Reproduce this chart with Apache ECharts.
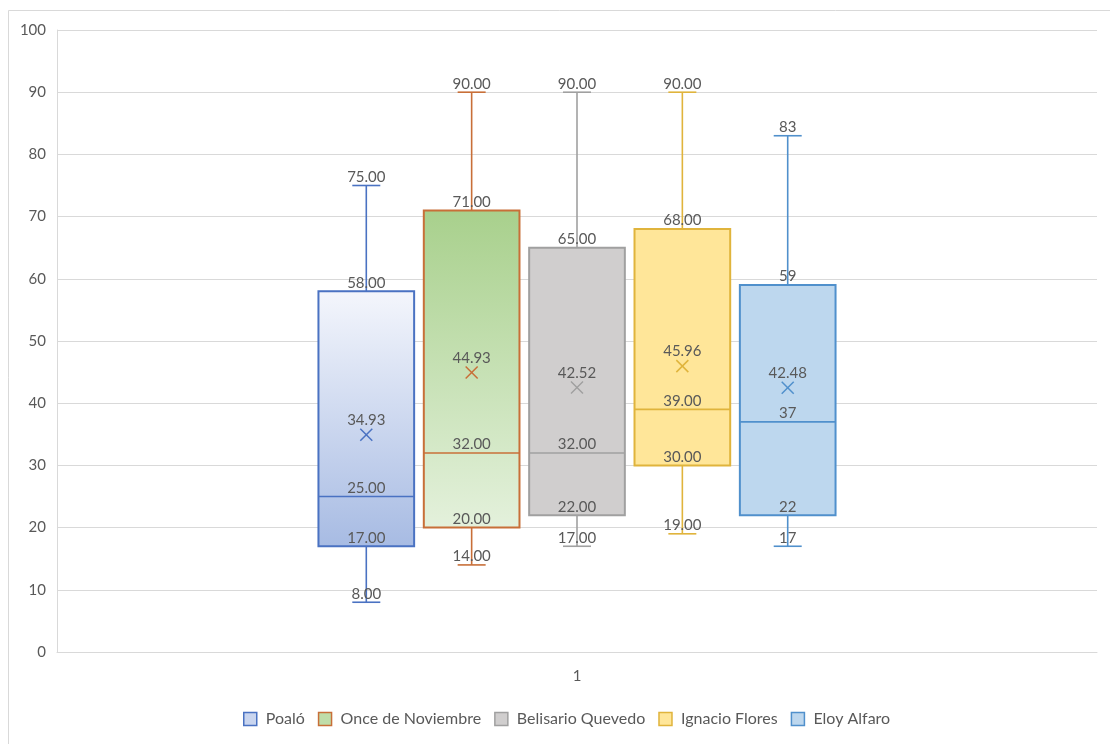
<!DOCTYPE html>
<html>
<head>
<meta charset="utf-8">
<script src="https://cdn.jsdelivr.net/npm/echarts@6/dist/echarts.min.js"></script>
<style>
html,body{margin:0;padding:0;background:#fff;}
#chart{width:1110px;height:744px;}
</style>
</head>
<body>
<div id="chart"></div>
<script>
// ---- data ----
const categories = ['1'];
const seriesNames = ['Poaló', 'Once de Noviembre', 'Belisario Quevedo', 'Ignacio Flores', 'Eloy Alfaro'];
const mins    = [8, 14, 17, 19, 17];
const q1s     = [17, 20, 22, 30, 22];
const medians = [25, 32, 32, 39, 37];
const q3s     = [58, 71, 65, 68, 59];
const maxs    = [75, 90, 90, 90, 83];
const means   = [34.93, 44.93, 42.52, 45.96, 42.48];
const labelDecimals = [2, 2, 2, 2, 0];
const yTicks = [0, 10, 20, 30, 40, 50, 60, 70, 80, 90, 100];

// ---- styles ----
const borderColors = ['#4A72C2', '#C86F38', '#A0A0A0', '#E0B43C', '#5090CC'];
const fills = [
  {type:'linear', x:0, y:0, x2:0, y2:1, colorStops:[{offset:0, color:'#F4F6FC'}, {offset:1, color:'#A7BBE3'}]},
  {type:'linear', x:0, y:0, x2:0, y2:1, colorStops:[{offset:0, color:'#A8D08C'}, {offset:1, color:'#E4F1DC'}]},
  '#D0CECE',
  '#FFE699',
  '#BDD7EE'
];
const legendFills = ['#C9D5EF', '#BFDDA9', '#D0CECE', '#FFE699', '#BDD7EE'];
const labelColor = '#595959';
const fontFamily = 'Lato, "Liberation Sans", sans-serif';

function makeSeries(i) {
  return {
    name: seriesNames[i],
    type: 'custom',
    itemStyle: {color: legendFills[i], borderColor: borderColors[i]},
    data: [[0, mins[i], q1s[i], medians[i], q3s[i], maxs[i], means[i]]],
    renderItem: function (params, api) {
      const cat = api.value(0);
      const center = api.coord([cat, 0])[0];
      const band = api.size([1, 0])[0];
      const xc = center + (i - 2) * band * 0.1013;
      const bw = band * 0.092;
      const cap = 28;
      const Y = v => api.coord([cat, v])[1];
      const vMin = api.value(1), vQ1 = api.value(2), vMed = api.value(3), vQ3 = api.value(4), vMax = api.value(5), vMean = api.value(6);
      const c = borderColors[i];
      const lw = 1.6;
      const line = (x1, y1, x2, y2) => ({type:'line', shape:{x1, y1, x2, y2}, style:{stroke:c, lineWidth:lw}, z2: 5});
      const fmt = v => v.toFixed(labelDecimals[i]);
      const label = (txt, y) => ({type:'text', z2: 20, style:{text: txt, x: xc, y: y, align:'center', verticalAlign:'bottom', fill: labelColor, font: '15px ' + fontFamily}});
      const children = [];
      // whiskers
      children.push(line(xc, Y(vQ3), xc, Y(vMax)));
      children.push(line(xc - cap/2, Y(vMax), xc + cap/2, Y(vMax)));
      children.push(line(xc, Y(vQ1), xc, Y(vMin)));
      children.push(line(xc - cap/2, Y(vMin), xc + cap/2, Y(vMin)));
      // box
      children.push({type:'rect', shape:{x: xc - bw/2, y: Y(vQ3), width: bw, height: Y(vQ1) - Y(vQ3)},
        style:{fill: fills[i], stroke: c, lineWidth: 2}, z2: 6});
      // median
      children.push({type:'line', shape:{x1: xc - bw/2, y1: Y(vMed), x2: xc + bw/2, y2: Y(vMed)}, style:{stroke:c, lineWidth:lw}, z2: 7});
      // mean X
      const ym = Y(vMean), s = 6;
      children.push({type:'line', shape:{x1: xc - s, y1: ym - s, x2: xc + s, y2: ym + s}, style:{stroke:c, lineWidth:1.5}, z2: 8});
      children.push({type:'line', shape:{x1: xc - s, y1: ym + s, x2: xc + s, y2: ym - s}, style:{stroke:c, lineWidth:1.5}, z2: 8});
      // labels
      children.push(label(fmt(vMax), Y(vMax) - 1));
      children.push(label(fmt(vQ3), Y(vQ3) - 1));
      children.push(label(fmt(vMed), Y(vMed) - 1));
      children.push(label(fmt(vQ1), Y(vQ1) - 1));
      children.push(label(fmt(vMin), Y(vMin) - 1));
      children.push(label(vMean.toFixed(2), ym - 7));
      return {type:'group', children};
    }
  };
}

const chart = echarts.init(document.getElementById('chart'), null, {renderer:'canvas'});
chart.setOption({
  animation: false,
  backgroundColor: '#fff',
  textStyle: {fontFamily: fontFamily},
  graphic: [{type:'rect', shape:{x:8.5, y:10.5, width:1130, height:760}, style:{fill:'none', stroke:'#D9D9D9', lineWidth:1}, z:-10, silent:true}],
  grid: {left: 57, right: 13, top: 30, bottom: 92},
  legend: {
    bottom: 12, left: 238,
    itemWidth: 13, itemHeight: 13, itemGap: 13,
    icon: 'rect',
    textStyle: {color: labelColor, fontSize: 16, fontFamily: fontFamily, padding: [0, 0, 0, 4]},
    data: seriesNames.map((n, i) => ({name: n, itemStyle: {color: legendFills[i], borderColor: borderColors[i], borderWidth: 1.5}}))
  },
  xAxis: {
    type: 'category', data: categories,
    axisLine: {show: true, lineStyle: {color: '#D9D9D9'}},
    axisTick: {show: false},
    axisLabel: {color: labelColor, fontSize: 15, margin: 17, fontFamily: fontFamily},
    splitLine: {show: false}
  },
  yAxis: {
    type: 'value', min: yTicks[0], max: yTicks[yTicks.length - 1], interval: 10,
    axisLine: {show: true, lineStyle: {color: '#D9D9D9'}},
    axisTick: {show: false},
    axisLabel: {color: labelColor, fontSize: 15, margin: 11, fontFamily: fontFamily},
    splitLine: {show: true, lineStyle: {color: '#D9D9D9', width: 1}}
  },
  series: seriesNames.map((n, i) => makeSeries(i))
});
</script>
</body>
</html>
